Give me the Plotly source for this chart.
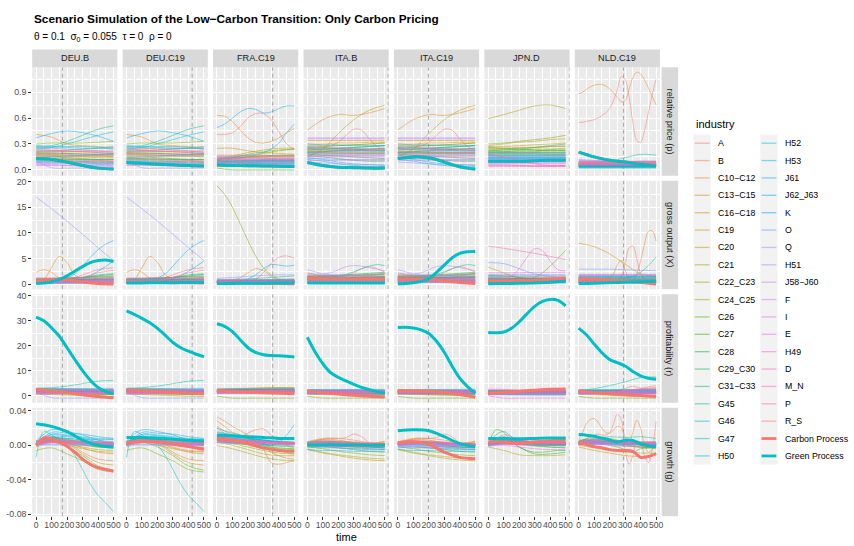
import math
import plotly.graph_objects as go

# ---------------------------------------------------------------- time grids
T6 = [0, 100, 200, 300, 400, 500]
T11 = [0, 50, 100, 150, 200, 250, 300, 350, 400, 450, 500]
T21 = [0, 25, 50, 75, 100, 125, 150, 175, 200, 225, 250, 275, 300, 325, 350,
       375, 400, 425, 450, 475, 500]
GRIDS = {6: T6, 11: T11, 21: T21}

INDUSTRIES = ["A", "B", "C10\u2212C12", "C13\u2212C15", "C16\u2212C18", "C19", "C20", "C21",
              "C22_C23", "C24_C25", "C26", "C27", "C28", "C29_C30", "C31\u2212C33", "G45",
              "G46", "G47", "H50", "H52", "H53", "J61", "J62_J63", "K", "O", "Q", "H51",
              "J58\u2212J60", "F", "I", "E", "H49", "D", "M_N", "P", "R_S"]
INDUSTRY_CODES = ["A", "B", "C10-C12", "C13-C15", "C16-C18", "C19", "C20", "C21",
                  "C22_C23", "C24_C25", "C26", "C27", "C28", "C29_C30", "C31-C33", "G45",
                  "G46", "G47", "H50", "H52", "H53", "J61", "J62_J63", "K", "O", "Q", "H51",
                  "J58-J60", "F", "I", "E", "H49", "D", "M_N", "P", "R_S"]

PANELS = ["DEU.B", "DEU.C19", "FRA.C19", "ITA.B", "ITA.C19", "JPN.D", "NLD.C19"]
METRICS = ["relative price (p)", "gross output (X)", "profitability (r)", "growth (g)"]
SPLIT_TIME = {"DEU.B": 170, "DEU.C19": 424, "FRA.C19": 360, "ITA.B": 522,
              "ITA.C19": 198, "JPN.D": 524, "NLD.C19": 290}

# ---------------------------------------------------------------- industry series (rows follow INDUSTRIES)
DEU_PRICE = [
    [0.25, 0.25, 0.24, 0.23, 0.22, 0.20], [0.23, 0.24, 0.25, 0.25, 0.25, 0.24],
    [0.41, 0.38, 0.30, 0.28, 0.27, 0.26], [0.20, 0.20, 0.19, 0.19, 0.18, 0.18],
    [0.18, 0.18, 0.17, 0.16, 0.16, 0.15], [0.16, 0.16, 0.15, 0.15, 0.14, 0.14],
    [0.14, 0.13, 0.13, 0.12, 0.11, 0.10], [0.12, 0.12, 0.11, 0.10, 0.10, 0.09],
    [0.22, 0.22, 0.21, 0.21, 0.20, 0.19], [0.30, 0.31, 0.31, 0.31, 0.32, 0.33],
    [0.17, 0.17, 0.16, 0.16, 0.16, 0.16], [0.15, 0.15, 0.14, 0.13, 0.12, 0.12],
    [0.19, 0.19, 0.19, 0.18, 0.18, 0.18], [0.13, 0.13, 0.12, 0.12, 0.12, 0.12],
    [0.10, 0.10, 0.09, 0.09, 0.08, 0.08], [0.27, 0.28, 0.33, 0.40, 0.47, 0.51],
    [0.21, 0.22, 0.23, 0.24, 0.25, 0.27], [0.09, 0.09, 0.08, 0.08, 0.07, 0.07],
    [0.26, 0.26, 0.27, 0.27, 0.26, 0.24], [0.24, 0.26, 0.30, 0.35, 0.40, 0.44],
    [0.14, 0.15, 0.16, 0.17, 0.18, 0.19], [0.37, 0.42, 0.45, 0.43, 0.39, 0.33],
    [0.28, 0.27, 0.26, 0.25, 0.25, 0.25], [0.11, 0.11, 0.10, 0.10, 0.09, 0.09],
    [0.07, 0.07, 0.07, 0.06, 0.06, 0.06], [0.11, 0.025, 0.02, 0.02, 0.02, 0.02],
    [0.06, 0.06, 0.05, 0.05, 0.05, 0.05], [0.24, 0.23, 0.22, 0.21, 0.20, 0.19],
    [0.08, 0.08, 0.08, 0.07, 0.07, 0.07], [0.05, 0.05, 0.05, 0.04, 0.04, 0.04],
    [0.18, 0.18, 0.18, 0.17, 0.17, 0.17], [0.12, 0.12, 0.12, 0.11, 0.11, 0.11],
    [0.09, 0.09, 0.09, 0.09, 0.09, 0.09], [0.20, 0.21, 0.21, 0.22, 0.22, 0.22],
    [0.16, 0.16, 0.16, 0.16, 0.16, 0.16], [0.22, 0.22, 0.22, 0.21, 0.21, 0.21],
]
DEU_OUTPUT = [
    [0.3, 0.4, 0.8, 1.8, 2.8, 3.2], [0.8, 0.8, 0.7, 0.7, 0.6, 0.6],
    [2.3, 2.8, 2.3, 1.2, 0.9, 0.8, 0.8, 0.8, 0.8, 0.8, 0.8],
    [0.5, 0.9, 3.2, 5.4, 4.2, 1.8, 1.0, 0.9, 0.9, 0.9, 0.9],
    [0.5, 0.5, 0.5, 0.5, 0.6, 0.6], [0.4, 0.4, 0.4, 0.4, 0.4, 0.4],
    [0.9, 0.9, 1.0, 1.0, 1.1, 1.1], [0.6, 0.6, 0.7, 0.8, 0.9, 1.0],
    [0.7, 0.7, 0.7, 0.8, 0.8, 0.8], [1.0, 1.0, 1.1, 1.2, 1.3, 1.4],
    [0.5, 0.6, 0.7, 0.9, 1.1, 1.3], [0.6, 0.6, 0.6, 0.7, 0.7, 0.7],
    [1.1, 1.1, 1.2, 1.3, 1.5, 1.6], [0.9, 1.0, 1.1, 1.3, 1.6, 1.9],
    [0.4, 0.4, 0.4, 0.5, 0.5, 0.5], [0.6, 0.7, 0.9, 1.3, 1.8, 2.0],
    [0.8, 0.8, 0.8, 0.9, 0.9, 1.0], [0.9, 0.9, 0.9, 0.9, 0.9, 0.9],
    [0.3, 0.3, 0.3, 0.3, 0.3, 0.3], [0.2, 0.2, 0.3, 0.3, 0.3, 0.3],
    [0.1, 0.1, 0.1, 0.1, 0.1, 0.1],
    [0.5, 0.5, 0.6, 0.8, 1.2, 2.0, 3.5, 5.2, 6.7, 7.8, 8.5],
    [0.7, 0.7, 0.7, 0.8, 0.8, 0.9], [0.3, 0.3, 0.4, 1.0, 2.5, 4.5],
    [0.5, 0.5, 0.5, 0.5, 0.6, 0.6], [17.0, 14.7, 12.3, 9.7, 7.1, 4.6],
    [0.4, 0.4, 0.5, 0.5, 0.5, 0.5], [0.6, 0.6, 0.6, 0.6, 0.7, 0.7],
    [1.0, 1.0, 1.0, 1.1, 1.1, 1.1], [0.7, 0.7, 0.8, 0.8, 0.8, 0.9],
    [0.2, 0.2, 0.2, 0.2, 0.2, 0.2], [0.5, 0.5, 0.5, 0.6, 0.6, 0.6],
    [0.3, 0.3, 0.3, 0.4, 0.4, 0.4], [1.2, 1.2, 1.3, 1.3, 1.4, 1.4],
    [0.8, 0.8, 0.8, 0.8, 0.8, 0.8], [0.3, 0.4, 0.6, 1.3, 2.2, 2.7],
]
DEU_PROFIT = [
    [2.2, 2.0, 1.8, 1.6, 1.4, 1.3], [1.8, 1.7, 1.6, 1.5, 1.4, 1.3],
    [2.4, 2.3, 2.2, 2.0, 1.8, 1.7], [1.5, 1.5, 1.4, 1.4, 1.3, 1.2],
    [1.2, 1.2, 1.1, 1.0, 1.0, 0.9], [2.0, 1.9, 1.8, 1.7, 1.6, 1.5],
    [0.8, 0.7, 0.6, 0.5, 0.5, 0.4], [1.0, 0.9, 0.8, 0.7, 0.5, 0.3],
    [1.6, 1.5, 1.3, 1.1, 0.9, 0.7], [2.1, 2.0, 1.9, 1.7, 1.5, 1.4],
    [0.6, 0.4, 0.2, 0.0, -0.2, -0.3], [1.3, 1.2, 1.0, 0.8, 0.6, 0.5],
    [2.5, 2.4, 2.3, 2.2, 2.1, 2.0], [1.9, 1.8, 1.7, 1.6, 1.5, 1.5],
    [1.7, 1.7, 1.6, 1.6, 1.5, 1.5], [2.6, 2.6, 2.5, 2.5, 2.4, 2.4],
    [3.0, 3.2, 3.8, 4.8, 5.8, 6.0], [2.3, 2.3, 2.2, 2.2, 2.1, 2.1],
    [2.8, 2.8, 2.7, 2.6, 2.5, 2.5], [2.0, 2.0, 2.0, 2.0, 2.0, 2.0],
    [1.4, 1.4, 1.4, 1.5, 1.5, 1.5], [2.7, 2.7, 2.8, 2.8, 2.9, 2.9],
    [1.9, 1.9, 1.9, 1.8, 1.8, 1.8], [1.6, 1.6, 1.6, 1.6, 1.7, 1.7],
    [1.1, 1.1, 1.1, 1.1, 1.1, 1.1], [1.5, -0.8, -1.0, -1.0, -1.0, -1.0],
    [0.9, 0.9, 0.9, 0.9, 0.9, 0.9], [2.2, 2.2, 2.2, 2.1, 2.1, 2.1],
    [1.3, 1.3, 1.3, 1.3, 1.3, 1.3], [1.7, 1.7, 1.8, 1.8, 1.8, 1.8],
    [0.7, 0.7, 0.7, 0.7, 0.7, 0.7], [1.0, 1.0, 1.0, 1.0, 1.0, 1.0],
    [2.4, 2.4, 2.4, 2.4, 2.4, 2.4], [1.5, 1.5, 1.6, 1.6, 1.6, 1.6],
    [2.0, 2.0, 2.1, 2.1, 2.1, 2.1], [1.2, 1.2, 1.2, 1.2, 1.2, 1.2],
]
DEU_GROWTH = [
    [0.002, 0.008, 0.006, 0.003, 0.001, 0.0], [0.003, 0.009, 0.005, -0.002, -0.006, -0.007],
    [0.004, 0.010, 0.004, -0.008, -0.016, -0.018], [0.003, 0.008, 0.002, -0.010, -0.020, -0.023],
    [0.002, 0.006, 0.003, -0.003, -0.008, -0.010], [0.0, 0.005, 0.002, -0.002, -0.005, -0.006],
    [-0.002, 0.003, 0.0, -0.004, -0.007, -0.008], [0.001, 0.004, 0.002, 0.0, -0.002, -0.003],
    [0.0, 0.005, 0.003, 0.001, -0.001, -0.002], [-0.006, -0.003, -0.010, -0.018, -0.028, -0.031],
    [0.0, 0.004, -0.002, -0.012, -0.024, -0.029], [0.002, 0.006, 0.005, 0.003, 0.002, 0.001],
    [0.001, 0.007, 0.006, 0.004, 0.002, 0.001], [0.0, 0.006, 0.004, 0.001, -0.002, -0.003],
    [0.002, 0.005, 0.004, 0.002, 0.001, 0.0], [0.003, 0.008, 0.008, 0.006, 0.004, 0.003],
    [0.004, 0.009, 0.007, 0.004, 0.003, 0.002], [0.005, 0.009, 0.008, 0.007, 0.007, 0.007],
    [-0.014, 0.016, 0.012, 0.006, 0.0, -0.012, -0.028, -0.045, -0.058, -0.067, -0.077],
    [0.0, 0.013, 0.012, 0.010, 0.008, 0.007], [0.003, 0.012, 0.011, 0.009, 0.006, 0.004],
    [0.005, 0.018, 0.016, 0.012, 0.006, 0.002], [0.0, 0.015, 0.014, 0.013, 0.010, 0.008],
    [0.002, 0.010, 0.010, 0.008, 0.004, 0.002], [0.0, 0.0, 0.0, 0.0, 0.0, 0.0],
    [0.001, 0.001, 0.001, 0.0, 0.0, 0.0], [0.002, 0.004, 0.003, 0.002, 0.001, 0.001],
    [0.003, 0.007, 0.006, 0.005, 0.004, 0.003], [0.001, 0.005, 0.004, 0.003, 0.002, 0.002],
    [0.002, 0.006, 0.005, 0.003, 0.002, 0.001], [0.0, 0.003, 0.002, 0.001, 0.0, 0.0],
    [0.001, 0.004, 0.004, 0.003, 0.003, 0.003], [0.002, 0.005, 0.004, 0.003, 0.002, 0.002],
    [0.003, 0.007, 0.006, 0.005, 0.004, 0.004], [0.001, 0.003, 0.003, 0.003, 0.002, 0.002],
    [0.002, 0.005, 0.005, 0.004, 0.003, 0.003],
]

FRA_PRICE = [
    [0.41, 0.41, 0.43, 0.50, 0.60, 0.65, 0.65, 0.58, 0.44, 0.30, 0.24],
    [0.17, 0.17, 0.17, 0.17, 0.16, 0.16],
    [0.63, 0.62, 0.56, 0.46, 0.37, 0.32, 0.31, 0.33, 0.37, 0.43, 0.48],
    [0.25, 0.25, 0.22, 0.20, 0.19, 0.18], [0.14, 0.14, 0.15, 0.15, 0.16, 0.16],
    [0.10, 0.10, 0.10, 0.10, 0.10, 0.10], [0.12, 0.13, 0.14, 0.15, 0.15, 0.15],
    [0.10, 0.12, 0.15, 0.19, 0.22, 0.24], [0.12, 0.16, 0.20, 0.23, 0.25, 0.25],
    [0.11, 0.14, 0.18, 0.21, 0.23, 0.24], [0.02, 0.0, 0.0, 0.0, 0.0, 0.0],
    [0.09, 0.10, 0.11, 0.12, 0.12, 0.12], [0.13, 0.14, 0.15, 0.16, 0.17, 0.17],
    [0.08, 0.09, 0.09, 0.10, 0.10, 0.10], [0.10, 0.10, 0.10, 0.11, 0.11, 0.11],
    [0.07, 0.08, 0.08, 0.09, 0.09, 0.09], [0.10, 0.10, 0.10, 0.10, 0.10, 0.10],
    [0.06, 0.06, 0.07, 0.07, 0.07, 0.07], [0.09, 0.09, 0.09, 0.09, 0.09, 0.09],
    [0.08, 0.08, 0.08, 0.08, 0.08, 0.08],
    [0.15, 0.15, 0.15, 0.16, 0.17, 0.18, 0.20, 0.24, 0.31, 0.43, 0.53],
    [0.49, 0.53, 0.60, 0.67, 0.71, 0.70, 0.66, 0.67, 0.71, 0.74, 0.74],
    [0.07, 0.07, 0.07, 0.07, 0.07, 0.07], [0.11, 0.11, 0.11, 0.11, 0.11, 0.11],
    [0.06, 0.06, 0.06, 0.06, 0.06, 0.06], [0.15, 0.15, 0.16, 0.16, 0.16, 0.16],
    [0.13, 0.13, 0.13, 0.13, 0.13, 0.13], [0.12, 0.12, 0.12, 0.12, 0.12, 0.12],
    [0.05, 0.05, 0.05, 0.05, 0.05, 0.05], [0.09, 0.09, 0.09, 0.09, 0.09, 0.09],
    [0.04, 0.04, 0.04, 0.04, 0.04, 0.04], [0.10, 0.10, 0.10, 0.10, 0.10, 0.10],
    [0.08, 0.08, 0.07, 0.07, 0.07, 0.07], [0.12, 0.12, 0.12, 0.13, 0.13, 0.13],
    [0.14, 0.14, 0.14, 0.14, 0.14, 0.14], [0.16, 0.16, 0.16, 0.16, 0.16, 0.16],
]
FRA_OUTPUT = [
    [0.3, 0.3, 0.3, 0.4, 0.6, 1.0, 2.2, 4.0, 5.2, 5.5, 5.0],
    [0.4, 0.4, 0.4, 0.4, 0.4, 0.4],
    [0.5, 0.6, 0.8, 1.2, 2.2, 3.0, 2.6, 1.5, 0.8, 0.6, 0.5],
    [0.6, 0.6, 0.7, 0.7, 0.7, 0.8], [0.3, 0.3, 0.3, 0.3, 0.3, 0.3],
    [0.2, 0.2, 0.2, 0.2, 0.2, 0.2], [0.5, 0.5, 0.5, 0.6, 0.6, 0.6],
    [0.4, 0.4, 0.5, 0.5, 0.5, 0.5], [0.7, 0.7, 0.8, 0.8, 0.9, 0.9],
    [19.2, 17.5, 15.0, 11.8, 8.5, 5.5, 3.2, 1.8, 1.0, 0.7, 0.6],
    [0.3, 0.3, 0.3, 0.3, 0.3, 0.3], [0.5, 0.5, 0.5, 0.5, 0.5, 0.5],
    [0.6, 0.6, 0.6, 0.7, 0.7, 0.7], [0.4, 0.4, 0.4, 0.4, 0.4, 0.4],
    [0.5, 0.5, 0.6, 0.6, 0.6, 0.6], [0.8, 0.9, 1.0, 1.2, 1.4, 1.6],
    [0.6, 0.6, 0.7, 0.8, 0.9, 1.0], [0.5, 0.5, 0.5, 0.5, 0.5, 0.5],
    [0.2, 0.2, 0.2, 0.2, 0.2, 0.2], [0.3, 0.3, 0.3, 0.3, 0.3, 0.3],
    [0.4, 0.4, 0.4, 0.4, 0.4, 0.4],
    [0.3, 0.3, 0.4, 0.6, 1.0, 1.8, 3.0, 3.8, 3.7, 3.5, 3.7],
    [0.5, 0.5, 0.5, 0.6, 0.6, 0.6], [0.7, 0.7, 0.7, 0.7, 0.7, 0.7],
    [0.9, 0.9, 0.9, 0.9, 0.9, 0.9], [1.1, 1.3, 1.5, 1.7, 1.8, 1.8],
    [0.3, 0.3, 0.3, 0.3, 0.3, 0.3], [0.4, 0.4, 0.4, 0.4, 0.4, 0.4],
    [0.6, 0.6, 0.6, 0.6, 0.6, 0.6], [0.5, 0.5, 0.5, 0.5, 0.5, 0.5],
    [0.2, 0.2, 0.2, 0.2, 0.2, 0.2], [0.3, 0.3, 0.3, 0.3, 0.3, 0.3],
    [0.4, 0.4, 0.4, 0.5, 0.5, 0.5], [0.8, 0.8, 0.8, 0.8, 0.8, 0.8],
    [0.6, 0.6, 0.6, 0.6, 0.6, 0.6], [0.3, 0.3, 0.3, 0.3, 0.3, 0.3],
]
FRA_PROFIT = [
    [2.0, 2.1, 2.3, 2.5, 2.7, 2.8], [1.8, 1.8, 1.8, 1.8, 1.8, 1.8],
    [2.6, 2.8, 3.0, 3.2, 3.2, 3.0], [2.2, 2.3, 2.4, 2.5, 2.5, 2.5],
    [1.5, 1.5, 1.6, 1.7, 1.8, 1.8], [1.0, 1.0, 1.0, 1.0, 1.0, 1.0],
    [1.2, 1.3, 1.4, 1.6, 1.7, 1.8], [2.4, 2.6, 2.8, 3.0, 3.1, 3.2],
    [1.9, 2.0, 2.2, 2.4, 2.6, 2.6], [2.5, 2.6, 2.7, 2.9, 3.0, 3.0],
    [-0.2, -1.0, -1.0, -1.0, -1.0, -1.0], [1.4, 1.4, 1.4, 1.5, 1.5, 1.5],
    [2.0, 2.1, 2.2, 2.3, 2.3, 2.3], [1.0, 1.0, 1.0, 1.0, 1.0, 1.0],
    [1.7, 1.7, 1.8, 1.8, 1.8, 1.8], [2.3, 2.3, 2.3, 2.3, 2.3, 2.3],
    [1.9, 1.9, 1.9, 1.9, 1.9, 1.9], [2.1, 2.1, 2.1, 2.1, 2.1, 2.1],
    [2.6, 2.6, 2.6, 2.6, 2.6, 2.6], [2.2, 2.2, 2.2, 2.2, 2.2, 2.2],
    [1.6, 1.6, 1.6, 1.6, 1.6, 1.6], [2.4, 2.4, 2.4, 2.4, 2.4, 2.4],
    [1.8, 1.8, 1.8, 1.8, 1.8, 1.8], [1.3, 1.3, 1.3, 1.3, 1.3, 1.3],
    [1.1, 1.1, 1.1, 1.1, 1.1, 1.1], [0.9, 0.9, 0.9, 0.9, 0.9, 0.9],
    [1.5, 1.5, 1.5, 1.5, 1.5, 1.5], [2.0, 2.0, 2.0, 2.0, 2.0, 2.0],
    [1.2, 1.2, 1.2, 1.2, 1.2, 1.2], [2.7, 2.7, 2.7, 2.7, 2.7, 2.7],
    [0.8, 0.8, 0.8, 0.8, 0.8, 0.8], [1.4, 1.4, 1.4, 1.4, 1.4, 1.4],
    [2.1, 2.1, 2.1, 2.1, 2.1, 2.1], [1.7, 1.7, 1.7, 1.7, 1.7, 1.7],
    [2.0, 2.0, 2.0, 2.0, 2.0, 2.0], [1.6, 1.6, 1.6, 1.6, 1.6, 1.6],
]
FRA_GROWTH = [
    [0.020, 0.014, 0.008, 0.010, 0.014, 0.018, 0.019, 0.012, 0.004, 0.0, -0.002],
    [0.010, 0.006, 0.004, 0.002, 0.001, 0.001],
    [0.033, 0.028, 0.022, 0.017, 0.012, 0.004, -0.005, -0.020, -0.022, -0.020, -0.018],
    [0.028, 0.022, 0.015, 0.012, 0.008, 0.004, 0.0, -0.008, -0.012, -0.015, -0.016],
    [0.022, 0.012, 0.008, 0.002, -0.006, -0.010], [0.0, 0.0, 0.0, 0.0, 0.0, 0.0],
    [0.004, 0.0, -0.005, -0.010, -0.012, -0.012], [0.0, -0.004, -0.009, -0.014, -0.017, -0.018],
    [0.006, 0.003, 0.0, -0.004, -0.006, -0.007], [0.005, 0.002, -0.002, -0.006, -0.009, -0.010],
    [0.008, 0.005, 0.002, -0.002, -0.004, -0.005], [0.006, 0.004, 0.001, -0.001, -0.003, -0.004],
    [0.007, 0.005, 0.003, 0.001, 0.0, 0.0], [0.004, 0.003, 0.001, 0.0, -0.001, -0.002],
    [0.010, 0.008, 0.006, 0.004, 0.003, 0.002], [0.012, 0.010, 0.008, 0.006, 0.005, 0.004],
    [0.009, 0.007, 0.006, 0.004, 0.003, 0.003], [0.011, 0.009, 0.007, 0.005, 0.004, 0.003],
    [0.015, 0.011, 0.008, 0.005, 0.003, 0.002], [0.020, 0.014, 0.010, 0.006, 0.004, 0.002],
    [0.013, 0.010, 0.008, 0.006, 0.004, 0.003],
    [0.010, 0.009, 0.008, 0.007, 0.005, 0.003, 0.001, 0.0, 0.003, 0.012, 0.024],
    [0.016, 0.012, 0.009, 0.006, 0.004, 0.003], [0.008, 0.006, 0.005, 0.004, 0.003, 0.002],
    [0.003, 0.002, 0.002, 0.001, 0.001, 0.001], [0.005, 0.004, 0.003, 0.002, 0.002, 0.002],
    [0.006, 0.005, 0.004, 0.003, 0.002, 0.002], [0.009, 0.007, 0.005, 0.004, 0.003, 0.003],
    [0.007, 0.006, 0.004, 0.003, 0.002, 0.002], [0.011, 0.008, 0.006, 0.004, 0.003, 0.002],
    [0.004, 0.003, 0.002, 0.002, 0.001, 0.001], [0.006, 0.005, 0.004, 0.003, 0.003, 0.002],
    [0.008, 0.006, 0.005, 0.004, 0.003, 0.003], [0.010, 0.008, 0.006, 0.005, 0.004, 0.003],
    [0.005, 0.004, 0.004, 0.003, 0.003, 0.003], [0.007, 0.006, 0.005, 0.004, 0.003, 0.003],
]

ITA_PRICE = [
    [0.25, 0.25, 0.26, 0.28, 0.32, 0.40, 0.47, 0.46, 0.36, 0.27, 0.23],
    [0.20, 0.20, 0.20, 0.20, 0.20, 0.20],
    [0.46, 0.58, 0.64, 0.63, 0.66, 0.71], [0.34, 0.34, 0.34, 0.34, 0.34, 0.34],
    [0.30, 0.30, 0.31, 0.31, 0.32, 0.32], [0.22, 0.22, 0.22, 0.22, 0.22, 0.22],
    [0.28, 0.28, 0.28, 0.29, 0.30, 0.31], [0.15, 0.24, 0.42, 0.58, 0.69, 0.75],
    [0.22, 0.22, 0.23, 0.24, 0.24, 0.25], [0.26, 0.27, 0.28, 0.29, 0.30, 0.31],
    [0.20, 0.20, 0.20, 0.20, 0.20, 0.20], [0.18, 0.17, 0.16, 0.15, 0.14, 0.13],
    [0.24, 0.24, 0.25, 0.26, 0.27, 0.28], [0.16, 0.15, 0.13, 0.11, 0.10, 0.10],
    [0.19, 0.19, 0.19, 0.19, 0.19, 0.19], [0.21, 0.21, 0.22, 0.22, 0.23, 0.23],
    [0.23, 0.24, 0.25, 0.26, 0.27, 0.28], [0.17, 0.17, 0.17, 0.17, 0.17, 0.17],
    [0.27, 0.26, 0.25, 0.24, 0.23, 0.22], [0.25, 0.24, 0.24, 0.23, 0.22, 0.22],
    [0.14, 0.12, 0.09, 0.07, 0.06, 0.05], [0.12, 0.10, 0.07, 0.05, 0.04, 0.04],
    [0.30, 0.29, 0.29, 0.28, 0.28, 0.28], [0.20, 0.21, 0.22, 0.23, 0.24, 0.25],
    [0.13, 0.13, 0.12, 0.12, 0.12, 0.12], [0.09, 0.08, 0.07, 0.06, 0.06, 0.06],
    [0.37, 0.37, 0.37, 0.37, 0.37, 0.37], [0.36, 0.36, 0.36, 0.36, 0.36, 0.36],
    [0.15, 0.15, 0.15, 0.15, 0.15, 0.15], [0.18, 0.18, 0.18, 0.18, 0.18, 0.18],
    [0.11, 0.11, 0.11, 0.11, 0.11, 0.11], [0.16, 0.16, 0.16, 0.16, 0.16, 0.16],
    [0.20, 0.20, 0.19, 0.19, 0.19, 0.19], [0.26, 0.26, 0.25, 0.25, 0.24, 0.24],
    [0.21, 0.21, 0.21, 0.21, 0.21, 0.21], [0.24, 0.24, 0.24, 0.24, 0.24, 0.24],
]
ITA_OUTPUT = [
    [1.5, 1.4, 1.3, 1.2, 1.3, 1.6, 2.2, 3.0, 3.4, 3.0, 2.3],
    [0.8, 0.8, 0.8, 0.8, 0.8, 0.8],
    [2.2, 1.6, 1.1, 1.2, 1.6, 2.0], [1.5, 1.5, 1.6, 1.7, 1.9, 2.0],
    [1.3, 1.2, 1.2, 1.3, 1.4, 1.5], [1.0, 1.0, 1.0, 1.0, 1.0, 1.0],
    [1.8, 1.7, 1.6, 1.6, 1.7, 1.8], [1.0, 1.0, 1.1, 1.2, 1.3, 1.4],
    [1.2, 1.2, 1.1, 1.1, 1.1, 1.2], [0.9, 0.9, 0.9, 1.0, 1.0, 1.0],
    [0.7, 0.7, 0.7, 0.8, 0.8, 0.8], [1.1, 1.1, 1.2, 1.3, 1.4, 1.5],
    [1.6, 1.6, 1.7, 1.9, 2.1, 2.3], [0.6, 0.6, 0.6, 0.6, 0.7, 0.7],
    [1.4, 1.4, 1.5, 1.6, 1.8, 2.0],
    [1.2, 1.2, 1.3, 1.4, 1.6, 1.9, 2.4, 3.0, 3.5, 3.8, 3.6],
    [0.9, 0.9, 1.0, 1.1, 1.2, 1.3], [0.5, 0.5, 0.5, 0.5, 0.5, 0.5],
    [0.4, 0.4, 0.4, 0.4, 0.4, 0.4], [0.8, 0.8, 0.8, 0.8, 0.8, 0.8],
    [0.3, 0.3, 0.3, 0.3, 0.3, 0.3], [0.6, 0.6, 0.6, 0.6, 0.6, 0.6],
    [1.0, 1.0, 1.0, 1.0, 1.0, 1.0], [1.3, 1.3, 1.3, 1.3, 1.3, 1.3],
    [0.5, 0.5, 0.5, 0.5, 0.5, 0.5], [2.0, 1.9, 1.8, 1.8, 1.9, 2.0],
    [2.8, 2.4, 2.0, 2.2, 2.8, 3.4, 3.6, 3.5, 3.2, 2.9, 2.6],
    [1.7, 1.7, 1.7, 1.6, 1.6, 1.6], [0.9, 0.9, 0.9, 0.9, 0.9, 0.9],
    [1.1, 1.1, 1.1, 1.1, 1.1, 1.1], [0.3, 0.3, 0.3, 0.3, 0.3, 0.3],
    [0.7, 0.7, 0.7, 0.7, 0.7, 0.7], [0.5, 0.5, 0.5, 0.5, 0.5, 0.5],
    [1.4, 1.4, 1.4, 1.4, 1.4, 1.4], [1.0, 1.0, 1.0, 1.0, 1.0, 1.0],
    [0.6, 0.6, 0.6, 0.6, 0.6, 0.6],
]
ITA_PROFIT = [
    [1.8, 1.6, 1.4, 1.2, 1.0, 0.9], [1.5, 1.5, 1.4, 1.4, 1.3, 1.3],
    [2.0, 1.9, 1.8, 1.7, 1.6, 1.5], [1.4, 1.3, 1.2, 1.1, 1.0, 1.0],
    [1.0, 0.9, 0.8, 0.7, 0.6, 0.5], [1.2, 1.2, 1.1, 1.1, 1.0, 1.0],
    [0.5, 0.4, 0.3, 0.2, 0.1, 0.0], [0.8, 0.6, 0.4, 0.2, 0.0, -0.2],
    [1.3, 1.2, 1.1, 1.0, 0.9, 0.8], [1.6, 1.6, 1.5, 1.5, 1.4, 1.4],
    [-0.3, -1.0, -1.0, -1.0, -1.0, -1.0], [1.1, 1.0, 0.9, 0.8, 0.8, 0.7],
    [2.2, 2.2, 2.1, 2.1, 2.0, 2.0], [0.9, 0.8, 0.7, 0.6, 0.5, 0.5],
    [1.7, 1.7, 1.7, 1.6, 1.6, 1.6], [2.0, 2.0, 2.0, 2.0, 2.0, 2.0],
    [2.3, 2.3, 2.4, 2.4, 2.5, 2.5], [1.9, 1.9, 1.9, 1.9, 1.9, 1.9],
    [2.4, 2.4, 2.3, 2.3, 2.2, 2.2], [1.6, 1.6, 1.6, 1.6, 1.6, 1.6],
    [1.2, 1.2, 1.2, 1.2, 1.2, 1.2], [2.1, 2.1, 2.1, 2.1, 2.1, 2.1],
    [1.8, 1.8, 1.8, 1.8, 1.8, 1.8], [1.4, 1.4, 1.4, 1.4, 1.4, 1.4],
    [1.0, 1.0, 1.0, 1.0, 1.0, 1.0], [0.7, 0.7, 0.7, 0.7, 0.7, 0.7],
    [1.5, 1.5, 1.5, 1.5, 1.5, 1.5], [1.9, 1.9, 1.9, 1.9, 1.9, 1.9],
    [1.1, 1.1, 1.1, 1.1, 1.1, 1.1], [2.2, 2.2, 2.2, 2.2, 2.2, 2.2],
    [0.6, 0.6, 0.6, 0.6, 0.6, 0.6], [1.3, 1.3, 1.3, 1.3, 1.3, 1.3],
    [1.7, 1.7, 1.7, 1.7, 1.7, 1.7], [1.5, 1.5, 1.5, 1.5, 1.5, 1.5],
    [1.9, 1.9, 1.9, 1.9, 1.9, 1.9], [1.2, 1.2, 1.2, 1.2, 1.2, 1.2],
]
ITA_GROWTH = [
    [0.003, 0.005, 0.007, 0.008, 0.008, 0.009, 0.013, 0.010, 0.003, 0.001, 0.0],
    [0.002, 0.004, 0.003, 0.001, 0.0, 0.0],
    [0.004, 0.008, 0.008, 0.006, 0.003, 0.004], [0.003, 0.007, 0.006, 0.003, 0.001, 0.003],
    [0.002, 0.005, 0.004, 0.002, 0.001, 0.005], [0.0, 0.001, 0.001, 0.0, 0.0, 0.0],
    [-0.004, -0.008, -0.011, -0.013, -0.015, -0.016], [-0.005, -0.009, -0.012, -0.015, -0.017, -0.018],
    [0.001, 0.002, 0.0, -0.002, -0.004, -0.005], [-0.002, -0.004, -0.007, -0.009, -0.011, -0.012],
    [0.002, 0.003, 0.002, 0.0, -0.002, -0.003], [0.0, -0.001, -0.003, -0.005, -0.007, -0.008],
    [0.003, 0.004, 0.003, 0.002, 0.001, 0.0], [0.001, 0.001, 0.0, -0.001, -0.002, -0.003],
    [0.002, 0.003, 0.002, 0.001, 0.0, -0.001], [0.002, 0.003, 0.003, 0.002, 0.002, 0.001],
    [0.003, 0.004, 0.004, 0.003, 0.002, 0.002], [0.001, 0.002, 0.002, 0.001, 0.001, 0.001],
    [0.004, 0.005, 0.004, 0.003, 0.002, 0.002], [0.002, 0.003, 0.002, 0.001, 0.0, 0.0],
    [-0.002, -0.003, -0.003, -0.004, -0.005, -0.005], [-0.005, -0.006, -0.006, -0.007, -0.007, -0.007],
    [0.001, 0.001, 0.0, 0.0, -0.001, -0.001], [0.0, 0.0, -0.001, -0.002, -0.002, -0.003],
    [-0.001, -0.002, -0.003, -0.004, -0.004, -0.005], [0.001, 0.001, 0.001, 0.0, 0.0, 0.0],
    [0.002, 0.002, 0.002, 0.001, 0.001, 0.001], [0.003, 0.003, 0.002, 0.002, 0.001, 0.001],
    [0.0, 0.001, 0.001, 0.0, 0.0, 0.0], [0.002, 0.004, 0.003, 0.002, 0.001, 0.001],
    [-0.001, -0.001, -0.002, -0.002, -0.003, -0.003], [0.001, 0.002, 0.002, 0.001, 0.0, 0.0],
    [0.002, 0.003, 0.003, 0.002, 0.002, 0.001], [0.003, 0.006, 0.005, 0.004, 0.003, 0.002],
    [0.001, 0.002, 0.002, 0.002, 0.001, 0.001], [0.002, 0.004, 0.004, 0.003, 0.002, 0.002],
]

JPN_PRICE = [
    [0.22, 0.21, 0.20, 0.19, 0.18, 0.18], [0.18, 0.18, 0.18, 0.18, 0.18, 0.18],
    [0.25, 0.25, 0.26, 0.26, 0.27, 0.27], [0.20, 0.20, 0.21, 0.21, 0.22, 0.22],
    [0.28, 0.30, 0.32, 0.33, 0.35, 0.36], [0.24, 0.24, 0.25, 0.26, 0.27, 0.28],
    [0.27, 0.27, 0.28, 0.29, 0.30, 0.31], [0.59, 0.64, 0.69, 0.74, 0.75, 0.71],
    [0.19, 0.19, 0.19, 0.20, 0.20, 0.20], [0.23, 0.23, 0.23, 0.24, 0.24, 0.25],
    [0.30, 0.31, 0.33, 0.35, 0.37, 0.40], [0.26, 0.25, 0.24, 0.23, 0.22, 0.22],
    [0.21, 0.21, 0.22, 0.22, 0.23, 0.23], [0.17, 0.17, 0.17, 0.17, 0.17, 0.17],
    [0.22, 0.23, 0.24, 0.26, 0.28, 0.30], [0.20, 0.20, 0.20, 0.20, 0.20, 0.20],
    [0.15, 0.15, 0.15, 0.15, 0.15, 0.15], [0.14, 0.14, 0.14, 0.14, 0.14, 0.14],
    [0.12, 0.12, 0.12, 0.12, 0.12, 0.12], [0.16, 0.16, 0.16, 0.16, 0.16, 0.16],
    [0.13, 0.13, 0.13, 0.13, 0.13, 0.13], [0.11, 0.11, 0.11, 0.11, 0.11, 0.11],
    [0.17, 0.17, 0.17, 0.17, 0.17, 0.17], [0.14, 0.14, 0.14, 0.14, 0.14, 0.14],
    [0.19, 0.19, 0.19, 0.19, 0.19, 0.19], [0.13, 0.13, 0.13, 0.13, 0.13, 0.13],
    [0.09, 0.09, 0.09, 0.09, 0.09, 0.09], [0.15, 0.15, 0.15, 0.15, 0.15, 0.15],
    [0.08, 0.08, 0.08, 0.08, 0.08, 0.08], [0.07, 0.07, 0.07, 0.07, 0.07, 0.07],
    [0.06, 0.06, 0.05, 0.05, 0.05, 0.05], [0.05, 0.05, 0.05, 0.04, 0.04, 0.04],
    [0.10, 0.10, 0.10, 0.10, 0.10, 0.10], [0.18, 0.15, 0.11, 0.07, 0.05, 0.05],
    [0.04, 0.04, 0.04, 0.04, 0.04, 0.04], [0.10, 0.10, 0.10, 0.10, 0.10, 0.10],
]
JPN_OUTPUT = [
    [0.6, 0.6, 0.6, 0.6, 0.6, 0.6], [0.3, 0.3, 0.3, 0.3, 0.3, 0.3],
    [1.0, 1.0, 1.0, 1.0, 1.0, 1.0], [0.8, 0.8, 0.8, 0.8, 0.8, 0.8],
    [1.2, 1.2, 1.2, 1.2, 1.2, 1.2], [0.7, 0.7, 0.7, 0.7, 0.7, 0.7],
    [3.3, 2.2, 1.2, 0.8, 0.8, 0.8], [1.5, 1.5, 1.4, 1.4, 1.3, 1.3],
    [0.9, 0.9, 0.9, 0.9, 0.9, 0.9], [0.5, 0.5, 0.5, 0.5, 0.5, 0.5],
    [0.3, 0.3, 0.3, 0.4, 0.5, 0.8, 1.3, 2.2, 3.5, 5.0, 6.6],
    [1.7, 1.6, 1.3, 1.0, 0.9, 0.9], [1.1, 1.1, 1.1, 1.1, 1.1, 1.1],
    [0.4, 0.4, 0.4, 0.4, 0.4, 0.4], [0.9, 0.9, 1.0, 1.0, 1.0, 1.0],
    [1.3, 1.2, 1.0, 0.9, 0.9, 0.9], [0.7, 0.7, 0.7, 0.7, 0.7, 0.7],
    [0.5, 0.5, 0.5, 0.5, 0.5, 0.5], [0.3, 0.3, 0.3, 0.3, 0.3, 0.3],
    [0.6, 0.6, 0.6, 0.6, 0.6, 0.6], [0.2, 0.2, 0.2, 0.2, 0.2, 0.2],
    [0.8, 0.8, 0.8, 0.8, 0.8, 0.8], [1.0, 1.0, 1.0, 1.0, 1.0, 1.0],
    [1.8, 1.8, 1.8, 1.8, 1.8, 1.8], [4.2, 4.0, 3.0, 2.0, 1.5, 1.3],
    [1.4, 1.4, 1.4, 1.4, 1.4, 1.4], [0.4, 0.4, 0.4, 0.4, 0.4, 0.4],
    [0.9, 0.9, 0.9, 0.9, 0.9, 0.9], [1.6, 1.6, 1.6, 1.6, 1.6, 1.6],
    [0.6, 0.6, 0.6, 0.6, 0.6, 0.6], [2.2, 2.2, 2.2, 2.3, 2.3, 2.3],
    [0.6, 0.6, 0.8, 1.5, 3.0, 5.2, 6.9, 6.5, 4.5, 2.8, 2.6],
    [0.5, 0.5, 0.5, 0.5, 0.5, 0.5], [7.4, 7.0, 6.5, 6.0, 5.4, 4.8],
    [0.8, 0.8, 0.8, 0.8, 0.8, 0.8], [1.0, 1.0, 1.0, 1.0, 1.0, 1.0],
]
JPN_PROFIT = [
    [1.2, 1.3, 1.4, 1.5, 1.6, 1.7], [1.6, 1.6, 1.6, 1.6, 1.6, 1.6],
    [2.0, 2.0, 2.1, 2.1, 2.2, 2.2], [1.4, 1.4, 1.4, 1.4, 1.4, 1.4],
    [1.0, 1.0, 1.0, 1.0, 1.0, 1.0], [0.8, 0.8, 0.8, 0.8, 0.8, 0.8],
    [0.5, 0.4, 0.3, 0.2, 0.2, 0.2], [1.8, 1.8, 1.8, 1.8, 1.8, 1.8],
    [1.1, 1.1, 1.1, 1.1, 1.1, 1.1], [1.5, 1.5, 1.5, 1.5, 1.5, 1.5],
    [0.9, 0.9, 1.0, 1.1, 1.2, 1.3], [1.3, 1.3, 1.3, 1.3, 1.3, 1.3],
    [1.7, 1.7, 1.7, 1.7, 1.7, 1.7], [0.7, 0.7, 0.7, 0.7, 0.7, 0.7],
    [1.2, 1.2, 1.2, 1.2, 1.2, 1.2], [2.1, 2.1, 2.1, 2.1, 2.1, 2.1],
    [1.9, 1.9, 1.9, 1.9, 1.9, 1.9], [1.6, 1.6, 1.6, 1.6, 1.6, 1.6],
    [0.6, 0.6, 0.6, 0.6, 0.6, 0.6], [1.0, 1.0, 1.0, 1.0, 1.0, 1.0],
    [0.4, 0.4, 0.4, 0.4, 0.4, 0.4], [1.4, 1.4, 1.4, 1.4, 1.4, 1.4],
    [1.8, 1.8, 1.8, 1.8, 1.8, 1.8], [1.2, 1.2, 1.2, 1.2, 1.2, 1.2],
    [0.5, 0.5, 0.5, 0.5, 0.5, 0.5], [0.9, 0.9, 0.9, 0.9, 0.9, 0.9],
    [0.3, 0.3, 0.3, 0.3, 0.3, 0.3], [1.5, 1.5, 1.5, 1.5, 1.5, 1.5],
    [0.8, 0.8, 0.8, 0.8, 0.8, 0.8], [1.1, 1.1, 1.1, 1.1, 1.1, 1.1],
    [0.0, -1.0, -1.0, -1.0, -1.0, -1.0], [2.3, 2.2, 2.0, 1.9, 1.8, 1.8],
    [1.5, 1.5, 1.5, 1.5, 1.5, 1.5], [2.6, 2.5, 2.3, 2.1, 2.0, 2.0],
    [1.7, 1.7, 1.7, 1.7, 1.7, 1.7], [1.3, 1.3, 1.3, 1.3, 1.3, 1.3],
]
JPN_GROWTH = [
    [0.002, 0.004, 0.004, 0.003, 0.003, 0.003], [0.001, 0.003, 0.003, 0.002, 0.002, 0.002],
    [0.003, 0.006, 0.005, 0.004, 0.003, 0.003], [0.002, 0.005, 0.004, 0.003, 0.002, 0.002],
    [0.001, 0.004, 0.003, 0.002, 0.001, 0.001], [0.0, 0.002, 0.001, 0.0, 0.0, 0.0],
    [-0.002, -0.006, -0.011, -0.012, -0.012, -0.011], [0.001, 0.005, 0.004, 0.001, 0.0, 0.0],
    [-0.001, 0.002, 0.001, -0.001, -0.002, -0.002], [0.002, 0.006, 0.004, 0.001, 0.0, 0.0],
    [0.003, 0.008, 0.006, 0.004, 0.006, 0.008],
    [0.0, 0.018, 0.015, 0.005, -0.002, -0.006, -0.008, -0.008, -0.007, -0.006, -0.006],
    [0.0, 0.010, -0.002, -0.010, -0.010, -0.008], [0.001, 0.004, 0.002, 0.0, -0.002, -0.003],
    [0.002, 0.007, 0.005, 0.002, 0.001, 0.001],
    [0.002, 0.012, 0.016, 0.010, 0.004, 0.001, 0.0, 0.0, 0.0, 0.0, 0.0],
    [0.003, 0.009, 0.006, 0.003, 0.002, 0.002], [0.002, 0.006, 0.005, 0.004, 0.004, 0.004],
    [0.001, 0.003, 0.003, 0.003, 0.003, 0.003], [0.002, 0.004, 0.004, 0.003, 0.003, 0.003],
    [0.0, 0.002, 0.002, 0.002, 0.002, 0.002], [0.001, 0.003, 0.002, 0.002, 0.001, 0.001],
    [0.002, 0.005, 0.004, 0.003, 0.002, 0.002], [0.001, 0.003, 0.003, 0.002, 0.002, 0.002],
    [0.0, 0.001, 0.001, 0.001, 0.001, 0.001], [0.001, 0.002, 0.002, 0.002, 0.002, 0.002],
    [0.0, 0.001, 0.0, 0.0, 0.0, 0.0], [0.002, 0.005, 0.004, 0.003, 0.003, 0.003],
    [0.001, 0.004, 0.003, 0.002, 0.002, 0.002], [0.003, 0.008, 0.006, 0.004, 0.003, 0.003],
    [-0.001, 0.0, -0.002, -0.004, -0.005, -0.005],
    [0.003, 0.008, 0.012, 0.010, 0.006, 0.004, 0.003, 0.003, 0.003, 0.003, 0.003],
    [0.002, 0.004, 0.004, 0.003, 0.002, 0.002], [0.002, 0.009, 0.007, 0.004, 0.003, 0.003],
    [0.001, 0.004, 0.003, 0.002, 0.002, 0.002], [0.002, 0.006, 0.005, 0.003, 0.002, 0.002],
]

NLD_PRICE = [
    [0.55, 0.55, 0.56, 0.57, 0.58, 0.60, 0.63, 0.66, 0.71, 0.80, 0.93, 1.08, 1.05, 0.85,
     0.55, 0.34, 0.32, 0.45, 0.66, 0.87, 1.05],
    [0.06, 0.06, 0.06, 0.06, 0.06, 0.06],
    [0.88, 0.90, 0.93, 0.96, 0.98, 0.99, 0.99, 0.97, 0.94, 0.89, 0.84, 0.79, 0.80, 0.93,
     1.07, 1.13, 1.11, 1.04, 0.95, 0.85, 0.75],
    [0.09, 0.09, 0.09, 0.09, 0.09, 0.09], [0.07, 0.07, 0.07, 0.07, 0.07, 0.07],
    [0.05, 0.05, 0.05, 0.05, 0.05, 0.05], [0.05, 0.05, 0.05, 0.05, 0.05, 0.05],
    [0.04, 0.04, 0.04, 0.04, 0.04, 0.04], [0.08, 0.08, 0.08, 0.08, 0.08, 0.08],
    [0.06, 0.06, 0.06, 0.06, 0.06, 0.06], [0.03, 0.03, 0.03, 0.03, 0.03, 0.03],
    [0.07, 0.07, 0.07, 0.07, 0.07, 0.07], [0.05, 0.05, 0.05, 0.05, 0.05, 0.05],
    [0.04, 0.04, 0.04, 0.04, 0.04, 0.04], [0.06, 0.06, 0.06, 0.06, 0.06, 0.06],
    [0.08, 0.08, 0.09, 0.09, 0.10, 0.10], [0.10, 0.10, 0.10, 0.14, 0.18, 0.17],
    [0.05, 0.05, 0.05, 0.05, 0.05, 0.05], [0.03, 0.03, 0.03, 0.03, 0.03, 0.03],
    [0.04, 0.04, 0.04, 0.04, 0.04, 0.04], [0.02, 0.02, 0.02, 0.02, 0.02, 0.02],
    [0.03, 0.03, 0.03, 0.03, 0.03, 0.03], [0.05, 0.05, 0.05, 0.05, 0.05, 0.05],
    [0.04, 0.04, 0.04, 0.04, 0.04, 0.04], [0.06, 0.06, 0.06, 0.06, 0.06, 0.06],
    [0.12, 0.11, 0.10, 0.10, 0.09, 0.09], [0.08, 0.08, 0.08, 0.08, 0.08, 0.08],
    [0.11, 0.10, 0.10, 0.09, 0.09, 0.09], [0.07, 0.07, 0.07, 0.07, 0.07, 0.07],
    [0.05, 0.05, 0.05, 0.05, 0.05, 0.05], [0.09, 0.09, 0.09, 0.09, 0.09, 0.09],
    [0.06, 0.06, 0.06, 0.06, 0.06, 0.06], [0.10, 0.10, 0.10, 0.10, 0.10, 0.10],
    [0.08, 0.08, 0.08, 0.08, 0.08, 0.08], [0.07, 0.07, 0.07, 0.07, 0.07, 0.07],
    [0.09, 0.09, 0.09, 0.09, 0.09, 0.09],
]
NLD_OUTPUT = [
    [0.6, 0.6, 0.6, 0.6, 0.7, 0.7, 0.7, 0.7, 0.8, 0.8, 0.9, 1.5, 4.0, 7.0, 7.4, 5.0,
     2.0, 1.0, 0.8, 0.8, 0.8],
    [0.3, 0.3, 0.3, 0.3, 0.3, 0.3],
    [1.2, 1.2, 1.1, 1.1, 1.0, 1.0, 1.0, 1.1, 1.3, 2.0, 3.8, 4.6, 2.8, 0.9, 0.8, 2.0,
     4.5, 7.8, 10.3, 10.4, 8.4],
    [0.5, 0.5, 0.5, 0.5, 0.5, 0.5], [8.0, 7.3, 5.9, 3.9, 2.0, 1.5],
    [0.4, 0.4, 0.4, 0.4, 0.4, 0.4], [0.8, 0.8, 0.8, 0.8, 0.8, 0.8],
    [0.6, 0.6, 0.6, 0.6, 0.6, 0.6], [1.0, 1.0, 1.0, 1.0, 1.0, 1.0],
    [0.7, 0.7, 0.7, 0.7, 0.7, 0.7], [0.4, 0.4, 0.4, 0.4, 0.4, 0.4],
    [0.9, 0.9, 0.9, 0.9, 0.9, 0.9], [1.2, 1.2, 1.2, 1.2, 1.2, 1.2],
    [0.5, 0.5, 0.5, 0.5, 0.5, 0.5], [1.4, 1.4, 1.4, 1.4, 1.4, 1.4],
    [1.6, 1.6, 1.6, 1.6, 1.6, 1.6],
    [0.8, 0.8, 0.8, 0.8, 0.9, 1.0, 1.2, 1.5, 2.3, 3.6, 5.3],
    [1.1, 1.1, 1.1, 1.1, 1.1, 1.1], [0.3, 0.3, 0.3, 0.3, 0.3, 0.3],
    [0.6, 0.6, 0.6, 0.6, 0.6, 0.6], [0.2, 0.2, 0.2, 0.2, 0.2, 0.2],
    [0.9, 0.9, 0.9, 0.9, 0.9, 0.9], [1.3, 1.3, 1.3, 1.3, 1.3, 1.3],
    [1.5, 1.5, 1.5, 1.5, 1.5, 1.5], [2.9, 2.9, 2.9, 2.8, 2.7, 2.6],
    [1.7, 1.7, 1.7, 1.7, 1.7, 1.7], [0.4, 0.4, 0.4, 0.4, 0.4, 0.4],
    [0.8, 0.8, 0.8, 0.8, 0.8, 0.8], [1.8, 1.8, 1.8, 1.8, 1.8, 1.8],
    [0.7, 0.7, 0.7, 0.7, 0.7, 0.7], [0.3, 0.3, 0.3, 0.3, 0.3, 0.3],
    [0.6, 0.6, 0.6, 0.6, 0.6, 0.6], [0.5, 0.5, 0.5, 0.5, 0.5, 0.5],
    [1.9, 1.9, 1.9, 1.9, 1.9, 1.9], [1.0, 1.0, 1.0, 1.0, 1.0, 1.0],
    [0.6, 0.6, 0.6, 0.6, 0.6, 0.6],
]
NLD_PROFIT = [
    [1.0, 1.1, 1.2, 1.4, 1.7, 2.2, 2.8, 3.8, 3.0, 3.5, 4.0],
    [1.2, 1.2, 1.2, 1.2, 1.2, 1.2],
    [1.5, 1.5, 1.6, 1.8, 2.2, 2.5], [1.8, 1.7, 1.6, 1.5, 1.5, 1.5],
    [0.8, 0.6, 0.4, 0.2, 0.0, -0.2], [1.0, 1.0, 1.0, 1.0, 1.0, 1.0],
    [0.5, 0.3, 0.1, -0.1, -0.3, -0.4], [1.3, 1.2, 1.1, 1.0, 0.9, 0.9],
    [1.0, 1.0, 1.0, 1.0, 1.0, 1.0], [1.6, 1.6, 1.6, 1.6, 1.6, 1.6],
    [-0.3, -1.0, -1.0, -1.0, -1.0, -1.0], [1.2, 1.2, 1.2, 1.2, 1.2, 1.2],
    [2.0, 2.0, 2.0, 2.0, 2.0, 2.0], [0.9, 0.9, 0.9, 0.9, 0.9, 0.9],
    [1.4, 1.4, 1.4, 1.4, 1.4, 1.4], [2.2, 2.2, 2.3, 2.4, 2.5, 2.6],
    [2.0, 2.8, 4.0, 5.5, 7.2, 7.5], [1.7, 1.7, 1.7, 1.7, 1.7, 1.7],
    [2.4, 2.4, 2.4, 2.4, 2.4, 2.4], [1.9, 1.9, 1.9, 1.9, 1.9, 1.9],
    [1.1, 1.1, 1.1, 1.1, 1.1, 1.1], [1.5, 1.5, 1.5, 1.5, 1.5, 1.5],
    [2.1, 2.1, 2.1, 2.1, 2.1, 2.1], [1.8, 1.8, 1.8, 1.8, 1.8, 1.8],
    [1.3, 1.3, 1.3, 1.3, 1.3, 1.3], [0.7, 0.7, 0.7, 0.7, 0.7, 0.7],
    [1.0, 1.0, 1.0, 1.0, 1.0, 1.0], [1.6, 1.6, 1.6, 1.6, 1.6, 1.6],
    [0.8, 0.8, 0.8, 0.8, 0.8, 0.8], [1.2, 1.2, 1.3, 1.5, 1.8, 2.0],
    [0.6, 0.6, 0.6, 0.6, 0.6, 0.6], [1.4, 1.4, 1.5, 1.8, 2.3, 2.5],
    [1.1, 1.1, 1.1, 1.1, 1.1, 1.1], [1.7, 1.7, 1.8, 2.0, 2.6, 3.0],
    [1.3, 1.3, 1.3, 1.3, 1.3, 1.3], [1.5, 1.5, 1.6, 2.0, 2.8, 3.2],
]
NLD_GROWTH = [
    [0.004, 0.006, 0.008, 0.010, 0.012, 0.013, 0.012, 0.012, 0.015, 0.025, 0.036, 0.030,
     -0.005, -0.022, -0.012, 0.005, 0.003, -0.012, -0.020, -0.005, 0.028],
    [0.002, 0.003, 0.003, 0.002, 0.002, 0.002],
    [0.007, 0.015, 0.025, 0.030, 0.031, 0.027, 0.020, 0.015, 0.014, 0.018, 0.022, 0.020,
     0.010, 0.002, 0.015, 0.029, 0.020, 0.000, -0.008, -0.005, 0.000],
    [0.004, 0.010, 0.008, 0.004, 0.000, -0.002], [0.003, 0.006, 0.004, 0.001, -0.002, -0.004],
    [0.0, 0.0, 0.0, 0.0, 0.0, 0.0],
    [-0.002, -0.006, -0.009, -0.012, -0.013, -0.012], [0.000, -0.003, -0.006, -0.008, -0.009, -0.009],
    [0.002, 0.003, 0.002, 0.000, -0.002, -0.003], [0.003, 0.004, 0.003, 0.001, 0.000, -0.001],
    [0.001, 0.002, 0.001, -0.001, -0.002, -0.003],
    [0.004, 0.006, 0.004, 0.002, 0.0, -0.002, -0.005, -0.008, -0.004, -0.003, -0.002],
    [0.003, 0.005, 0.004, 0.002, 0.001, 0.0], [0.002, 0.003, 0.003, 0.002, 0.001, 0.001],
    [0.005, 0.007, 0.006, 0.004, 0.003, 0.002], [0.004, 0.006, 0.006, 0.005, 0.004, 0.004],
    [0.006, 0.008, 0.010, 0.009, 0.010, 0.008], [0.003, 0.004, 0.004, 0.003, 0.003, 0.003],
    [0.002, 0.003, 0.003, 0.002, 0.002, 0.002], [0.003, 0.004, 0.004, 0.003, 0.003, 0.002],
    [0.001, 0.002, 0.002, 0.001, 0.001, 0.001], [0.002, 0.003, 0.003, 0.002, 0.002, 0.001],
    [0.004, 0.005, 0.005, 0.004, 0.003, 0.003], [0.003, 0.004, 0.004, 0.003, 0.002, 0.002],
    [0.001, 0.001, 0.001, 0.001, 0.001, 0.001], [0.002, 0.002, 0.002, 0.002, 0.001, 0.001],
    [0.001, 0.001, 0.001, 0.000, 0.000, 0.000], [0.003, 0.004, 0.003, 0.003, 0.002, 0.002],
    [0.002, 0.003, 0.003, 0.002, 0.002, 0.002], [0.004, 0.005, 0.005, 0.004, 0.003, 0.003],
    [0.000, 0.001, 0.000, -0.001, -0.002, -0.002], [0.003, 0.005, 0.005, 0.004, 0.003, 0.003],
    [0.002, 0.004, 0.004, 0.003, 0.002, 0.002], [0.005, 0.007, 0.006, 0.005, 0.004, 0.004],
    [0.002, 0.003, 0.003, 0.003, 0.002, 0.002], [0.004, 0.006, 0.005, 0.004, 0.003, 0.003],
]

COUNTRY_TABLES = {
    "DEU": [DEU_PRICE, DEU_OUTPUT, DEU_PROFIT, DEU_GROWTH],
    "FRA": [FRA_PRICE, FRA_OUTPUT, FRA_PROFIT, FRA_GROWTH],
    "ITA": [ITA_PRICE, ITA_OUTPUT, ITA_PROFIT, ITA_GROWTH],
    "JPN": [JPN_PRICE, JPN_OUTPUT, JPN_PROFIT, JPN_GROWTH],
    "NLD": [NLD_PRICE, NLD_OUTPUT, NLD_PROFIT, NLD_GROWTH],
}

# ---------------------------------------------------------------- split sector: carbon vs green process
GREEN_PRICE = {
    "DEU.B": [0.13, 0.12, 0.09, 0.05, 0.02, 0.01],
    "DEU.C19": [0.085, 0.075, 0.065, 0.058, 0.05, 0.045],
    "FRA.C19": [0.055, 0.05, 0.048, 0.045, 0.043, 0.04],
    "ITA.B": [0.085, 0.05, 0.03, 0.025, 0.02, 0.02],
    "ITA.C19": [0.13, 0.14, 0.15, 0.15, 0.14, 0.12, 0.09, 0.06, 0.035, 0.02, 0.01],
    "JPN.D": [0.10, 0.10, 0.10, 0.105, 0.11, 0.11],
    "NLD.C19": [0.205, 0.15, 0.11, 0.09, 0.065, 0.046],
}
CARBON_PRICE = GREEN_PRICE  # both processes sell at the sector price
GREEN_OUTPUT = {
    "DEU.B": [0.1, 0.2, 0.4, 0.9, 1.6, 2.5, 3.4, 4.2, 4.6, 4.7, 4.4],
    "DEU.C19": [0.2, 0.22, 0.25, 0.27, 0.3, 0.32],
    "FRA.C19": [0.1, 0.12, 0.15, 0.18, 0.2, 0.22],
    "ITA.B": [0.2, 0.2, 0.2, 0.2, 0.2, 0.2],
    "ITA.C19": [0.05, 0.1, 0.25, 0.5, 1.0, 2.3, 3.7, 5.1, 6.0, 6.3, 6.35],
    "JPN.D": [0.05, 0.1, 0.15, 0.2, 0.35, 0.6],
    "NLD.C19": [0.1, 0.15, 0.25, 0.35, 0.45, 0.55],
}
CARBON_OUTPUT = {
    "DEU.B": [0.6, 0.9, 0.8, 0.4, 0.1, 0.0],
    "DEU.C19": [0.35, 0.33, 0.3, 0.27, 0.25, 0.22],
    "FRA.C19": [0.2, 0.18, 0.15, 0.12, 0.1, 0.08],
    "ITA.B": [1.1, 1.05, 1.0, 1.0, 1.0, 0.95],
    "ITA.C19": [1.0, 1.0, 0.9, 0.6, 0.3, 0.1],
    "JPN.D": [0.5, 0.5, 0.6, 0.7, 0.9, 1.2],
    "NLD.C19": [1.1, 1.0, 0.8, 0.6, 0.3, 0.0],
}
GREEN_PROFIT = {
    "DEU.B": [31.5, 30.0, 27.2, 23.8, 19.2, 14.5, 10.0, 6.2, 3.3, 1.6, 0.7],
    "DEU.C19": [34.0, 32.6, 31.0, 29.2, 27.0, 24.2, 21.3, 19.2, 17.8, 16.6, 15.6],
    "FRA.C19": [28.8, 27.8, 25.7, 22.4, 19.2, 17.3, 16.4, 16.1, 16.0, 15.8, 15.5],
    "ITA.B": [23.4, 17.5, 12.8, 9.2, 7.3, 5.9, 4.5, 3.3, 2.4, 1.6, 1.0],
    "ITA.C19": [27.3, 27.4, 27.1, 26.4, 24.9, 21.8, 17.4, 11.9, 7.0, 3.6, 1.0],
    "JPN.D": [25.3, 25.2, 25.5, 27.0, 29.6, 32.8, 35.8, 37.8, 38.6, 38.2, 36.0],
    "NLD.C19": [27.1, 24.4, 20.7, 17.2, 14.5, 13.2, 11.9, 9.7, 7.9, 7.0, 6.6],
}
CARBON_PROFIT = {
    "DEU.B": [2.5, 2.0, 1.2, 0.3, -0.4, -0.9],
    "DEU.C19": [2.4, 2.1, 1.7, 1.3, 1.0, 0.7],
    "FRA.C19": [2.0, 1.7, 1.4, 1.1, 0.9, 0.7],
    "ITA.B": [1.8, 1.2, 0.6, 0.1, -0.3, -0.6],
    "ITA.C19": [2.0, 1.9, 1.8, 1.4, 0.4, -0.6],
    "JPN.D": [0.8, 1.2, 1.7, 2.2, 2.6, 2.7],
    "NLD.C19": [2.0, 1.3, 0.7, 0.3, 0.0, -0.4],
}
GREEN_GROWTH = {
    "DEU.B": [0.025, 0.022, 0.016, 0.006, 0.0, -0.002],
    "DEU.C19": [0.009, 0.009, 0.008, 0.007, 0.006, 0.005],
    "FRA.C19": [0.012, 0.011, 0.010, 0.009, 0.008, 0.008],
    "ITA.B": [0.0005, 0.0005, 0.0005, 0.0003, 0.0002, 0.0],
    "ITA.C19": [0.017, 0.018, 0.017, 0.010, 0.002, -0.0015],
    "JPN.D": [0.008, 0.008, 0.0075, 0.008, 0.0085, 0.0085],
    "NLD.C19": [0.0126, 0.0118, 0.0105, 0.0083, 0.0062, 0.0038, 0.006, 0.0055, 0.0015,
                -0.0005, -0.0015],
}
CARBON_GROWTH = {
    "DEU.B": [0.0, 0.0085, 0.0075, 0.004, -0.001, -0.008, -0.016, -0.022, -0.026, -0.028, -0.030],
    "DEU.C19": [0.003, 0.005, 0.004, 0.0015, -0.0015, -0.005],
    "FRA.C19": [0.008, 0.006, 0.002, -0.003, -0.006, -0.007],
    "ITA.B": [0.0, 0.0, 0.0, 0.0, 0.0, 0.0],
    "ITA.C19": [0.003, 0.004, 0.001, -0.008, -0.014, -0.0155],
    "JPN.D": [0.004, 0.0035, 0.002, 0.004, 0.005, 0.0055],
    "NLD.C19": [0.0023, 0.001, -0.0015, -0.003, -0.005, -0.006, -0.006, -0.007, -0.014,
                -0.013, -0.0095],
}
GREEN_SERIES = [GREEN_PRICE, GREEN_OUTPUT, GREEN_PROFIT, GREEN_GROWTH]
CARBON_SERIES = [CARBON_PRICE, CARBON_OUTPUT, CARBON_PROFIT, CARBON_GROWTH]

# ---------------------------------------------------------------- axis ticks per row
ROW_TICKS = [[0, 0.3, 0.6, 0.9], [0, 5, 10, 15, 20], [0, 10, 20, 30, 40], [-0.08, -0.04, 0, 0.04]]
ROW_TICKTEXT = [["0.0", "0.3", "0.6", "0.9"], ["0", "5", "10", "15", "20"],
                ["0", "10", "20", "30", "40"], ["-0.08", "-0.04", "0.00", "0.04"]]
ROW_MINOR = [[0.15, 0.45, 0.75, 1.05], [2.5, 7.5, 12.5, 17.5], [5, 15, 25, 35], [-0.06, -0.02, 0.02]]
ROW_RANGE = [[-0.0686, 1.189], [-1.022, 20.19], [-2.89, 40.67], [-0.0825, 0.0436]]
X_TICKS = [0, 100, 200, 300, 400, 500]
X_MINOR = [50, 150, 250, 350, 450]
X_RANGE = [-25, 525]

# ---------------------------------------------------------------- geometry (pixels)
W, H = 854, 546
COL_LEFT = [32.3 + 90.75 * c for c in range(7)]
PANEL_W = 85.5
ROW_TOP = [64 + 115 * r for r in range(4)]
PANEL_H = 110
FONT = "Liberation Sans, Arial, Helvetica, sans-serif"


def px_x(x):
    return x / W


def px_y(y):
    return 1 - y / H


def hcl_rgb(h, c=100.0, l=65.0):
    """Polar LUV -> sRGB, as used by ggplot's default hue palette."""
    hr = math.radians(h)
    u, v = c * math.cos(hr), c * math.sin(hr)
    xn, yn, zn = 95.047, 100.0, 108.883
    un = 4 * xn / (xn + 15 * yn + 3 * zn)
    vn = 9 * yn / (xn + 15 * yn + 3 * zn)
    yy = yn * ((l + 16) / 116) ** 3
    up = u / (13 * l) + un
    vp = v / (13 * l) + vn
    xx = yy * 9 * up / (4 * vp)
    zz = yy * (12 - 3 * up - 20 * vp) / (4 * vp)
    xx, yy, zz = xx / 100, yy / 100, zz / 100
    lin = [3.240479 * xx - 1.537150 * yy - 0.498535 * zz,
           -0.969256 * xx + 1.875992 * yy + 0.041556 * zz,
           0.055648 * xx - 0.204043 * yy + 1.057311 * zz]
    out = []
    for t in lin:
        t = max(0.0, min(1.0, t))
        t = 1.055 * t ** (1 / 2.4) - 0.055 if t > 0.0031308 else 12.92 * t
        out.append(int(round(255 * t)))
    return tuple(out)


IND_ALPHA = 0.5
IND_COLORS = ["rgba(%d,%d,%d,%.2f)" % (hcl_rgb(15 + 10 * i) + (IND_ALPHA,))
              for i in range(len(INDUSTRIES))]
CARBON_COLOR = "#F8766D"
GREEN_COLOR = "#00BFC4"
SPLIT_COLOR = "rgba(150,150,150,0.8)"

fig = go.Figure()


def axis_suffix(k):
    return "" if k == 1 else str(k)


def add_line(k, xs, ys, color, width, shape="spline", dash="solid"):
    sfx = axis_suffix(k)
    fig.add_trace(go.Scatter(
        x=xs, y=ys, mode="lines",
        line=dict(color=color, width=width, shape=shape, dash=dash),
        xaxis="x" + sfx, yaxis="y" + sfx, hoverinfo="skip", showlegend=False))


layout = dict(
    width=W, height=H, margin=dict(l=0, r=0, t=0, b=0),
    paper_bgcolor="white", plot_bgcolor="#EBEBEB",
    showlegend=False, font=dict(family=FONT, color="#1A1A1A"),
)
shapes = []
annotations = []

for r in range(4):
    for c, panel in enumerate(PANELS):
        k = r * 7 + c + 1
        sfx = axis_suffix(k)
        left, top = COL_LEFT[c], ROW_TOP[r]
        outer_x = (r == 3)
        outer_y = (c == 0)
        layout["xaxis" + sfx] = dict(
            domain=[px_x(left), px_x(left + PANEL_W)], range=X_RANGE, anchor="y" + sfx,
            tickmode="array", tickvals=X_TICKS, ticktext=[str(v) for v in X_TICKS],
            tickangle=0, ticklabelstandoff=-3,
            showgrid=True, gridcolor="white", gridwidth=1.1, zeroline=False, showline=False,
            minor=dict(tickmode="array", tickvals=X_MINOR, showgrid=True,
                       gridcolor="white", gridwidth=0.55, ticks=""),
            showticklabels=outer_x, ticks="outside" if outer_x else "",
            ticklen=3, tickwidth=1, tickcolor="#333333",
            tickfont=dict(size=8.6, color="#4D4D4D", family=FONT), fixedrange=True)
        layout["yaxis" + sfx] = dict(
            domain=[px_y(top + PANEL_H), px_y(top)], range=ROW_RANGE[r], anchor="x" + sfx,
            tickmode="array", tickvals=ROW_TICKS[r], ticktext=ROW_TICKTEXT[r],
            showgrid=True, gridcolor="white", gridwidth=1.1, zeroline=False, showline=False,
            minor=dict(tickmode="array", tickvals=ROW_MINOR[r], showgrid=True,
                       gridcolor="white", gridwidth=0.55, ticks=""),
            showticklabels=outer_y, ticks="outside" if outer_y else "",
            ticklen=3, tickwidth=1, tickcolor="#333333",
            tickfont=dict(size=8.8, color="#4D4D4D", family=FONT), fixedrange=True)

        # dashed marker of the switching date, beneath the series
        add_line(k, [SPLIT_TIME[panel], SPLIT_TIME[panel]], ROW_RANGE[r], SPLIT_COLOR, 1.0,
                 shape="linear", dash="4px,3px")

        # industry lines (the split sector itself is shown as two processes)
        country, sector = panel.split(".")
        table = COUNTRY_TABLES[country][r]
        for i, code in enumerate(INDUSTRY_CODES):
            if code == sector:
                continue
            add_line(k, GRIDS[len(table[i])], table[i], IND_COLORS[i], 1.0)
        carbon = CARBON_SERIES[r][panel]
        green = GREEN_SERIES[r][panel]
        add_line(k, GRIDS[len(carbon)], carbon, CARBON_COLOR, 3.0)
        add_line(k, GRIDS[len(green)], green, GREEN_COLOR, 3.0)

# column strips
for c, panel in enumerate(PANELS):
    left = COL_LEFT[c]
    shapes.append(dict(type="rect", xref="paper", yref="paper",
                       x0=px_x(left), x1=px_x(left + PANEL_W), y0=px_y(64), y1=px_y(46),
                       fillcolor="#D9D9D9", line=dict(width=0)))
    annotations.append(dict(text=panel, xref="paper", yref="paper",
                            x=px_x(left + PANEL_W / 2), y=px_y(55), showarrow=False,
                            xanchor="center", yanchor="middle",
                            font=dict(size=9.2, color="#1A1A1A", family=FONT)))

# row strips
STRIP_X0, STRIP_X1 = 664, 680.5
for r, metric in enumerate(METRICS):
    top = ROW_TOP[r]
    shapes.append(dict(type="rect", xref="paper", yref="paper",
                       x0=px_x(STRIP_X0), x1=px_x(STRIP_X1), y0=px_y(top + PANEL_H), y1=px_y(top),
                       fillcolor="#D9D9D9", line=dict(width=0)))
    annotations.append(dict(text=metric, xref="paper", yref="paper",
                            x=px_x((STRIP_X0 + STRIP_X1) / 2), y=px_y(top + PANEL_H / 2),
                            showarrow=False, textangle=90, xanchor="center", yanchor="middle",
                            font=dict(size=9.2, color="#1A1A1A", family=FONT)))

# titles
annotations.append(dict(
    text="<b>Scenario Simulation of the Low\u2212Carbon Transition: Only Carbon Pricing</b>",
    xref="paper", yref="paper", x=px_x(32.5), y=px_y(15), xanchor="left", yanchor="middle",
    showarrow=False, font=dict(size=11.8, color="black", family=FONT)))
annotations.append(dict(
    text="\u03b8 = 0.1  \u03c3<sub>0</sub> = 0.055  \u03c4 = 0  \u03c1 = 0",
    xref="paper", yref="paper", x=px_x(32.5), y=px_y(33), xanchor="left", yanchor="middle",
    showarrow=False, font=dict(size=10, color="black", family=FONT)))
annotations.append(dict(
    text="time", xref="paper", yref="paper",
    x=px_x((COL_LEFT[0] + COL_LEFT[6] + PANEL_W) / 2), y=px_y(539.5),
    xanchor="center", yanchor="middle", showarrow=False,
    font=dict(size=11, color="black", family=FONT)))

# legend (two columns of keys)
LEG_TOP, LEG_STEP = 141, 17.6
annotations.append(dict(text="industry", xref="paper", yref="paper", x=px_x(696), y=px_y(122),
                        xanchor="left", yanchor="middle", showarrow=False,
                        font=dict(size=11, color="black", family=FONT)))
legend_items = [(name, IND_COLORS[i], 1.3) for i, name in enumerate(INDUSTRIES)]
legend_items += [("Carbon Process", CARBON_COLOR, 2.8), ("Green Process", GREEN_COLOR, 2.8)]
columns = [legend_items[:19], legend_items[19:]]
KEY_X = [696, 763]
for ci, items in enumerate(columns):
    kx = KEY_X[ci]
    shapes.append(dict(type="rect", xref="paper", yref="paper",
                       x0=px_x(kx), x1=px_x(kx + 17.3),
                       y0=px_y(LEG_TOP + LEG_STEP * (len(items) - 1) + 8.7),
                       y1=px_y(LEG_TOP - 8.7),
                       fillcolor="#F2F2F2", line=dict(width=0)))
    for j, (name, color, width) in enumerate(items):
        yc = LEG_TOP + LEG_STEP * j
        shapes.append(dict(type="line", xref="paper", yref="paper",
                           x0=px_x(kx + 1.2), x1=px_x(kx + 16.1), y0=px_y(yc), y1=px_y(yc),
                           line=dict(color=color, width=width)))
        annotations.append(dict(text=name, xref="paper", yref="paper",
                                x=px_x(kx + 23), y=px_y(yc), xanchor="left", yanchor="middle",
                                showarrow=False, font=dict(size=8.8, color="black", family=FONT)))

layout["shapes"] = shapes
layout["annotations"] = annotations
fig.update_layout(**layout)
fig.write_html("out.html")
